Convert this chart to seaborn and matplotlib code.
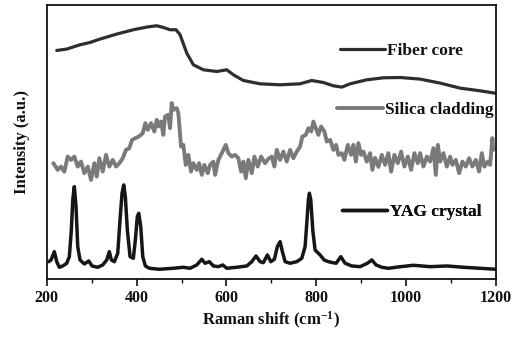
import numpy as np
import pandas as pd
import matplotlib
matplotlib.use("Agg")
import matplotlib.pyplot as plt
import seaborn as sns

# ---------------- data ----------------
core_x = [222.3, 244.5, 274.1, 296.4, 318.6, 355.8, 392.7, 422.6, 444.8, 459.5,
          474.4, 487.8, 496.7, 511.6, 526.3, 548.5, 578.4, 600.6, 615.3, 637.6,
          674.7, 719.3, 763.8, 789.8, 815.6, 837.9, 856.6, 875.1, 912.2, 949.2,
          986.3, 1030.8, 1075.3, 1119.8, 1164.3, 1200.0]
core_y = [228.3, 229.7, 234.0, 236.3, 239.7, 244.7, 249.0, 251.7, 253.0, 251.3,
          249.0, 249.0, 244.0, 225.7, 214.0, 209.0, 207.3, 209.0, 204.0, 198.3,
          195.0, 194.0, 195.0, 198.3, 196.3, 193.0, 191.7, 195.0, 199.0, 201.0,
          201.3, 199.7, 195.7, 190.7, 188.0, 185.5]

silica_x = [214.7, 224.5, 231.8, 239.2, 246.7, 254.1, 261.4, 269.0, 276.3, 283.7,
            291.3, 298.6, 305.9, 311.3, 317.1, 324.6, 332.0, 339.3, 346.9, 354.2,
            361.6, 369.2, 376.5, 383.8, 389.9, 397.2, 404.8, 413.7, 419.5, 424.8,
            432.1, 439.5, 444.8, 448.4, 454.4, 459.5, 463.3, 470.6, 474.4, 478.1,
            481.8, 489.3, 492.9, 498.9, 504.0, 509.4, 515.2, 521.2, 526.3, 533.9,
            539.0, 545.0, 550.8, 558.4, 563.5, 570.8, 574.6, 581.9, 589.5, 598.4,
            604.2, 611.8, 619.1, 626.4, 632.5, 637.6, 642.9, 648.7, 656.3, 662.1,
            669.6, 677.0, 685.9, 693.2, 700.8, 706.6, 711.9, 719.3, 726.6, 734.2,
            741.5, 748.9, 756.4, 763.8, 768.9, 776.5, 782.3, 788.3, 793.4, 798.7,
            804.5, 810.5, 817.9, 823.2, 830.5, 837.9, 843.9, 849.0, 856.6, 862.4,
            869.9, 877.3, 882.4, 887.8, 893.6, 899.6, 904.7, 912.2, 919.6, 924.7,
            930.7, 938.1, 945.6, 952.9, 960.3, 966.3, 973.7, 981.2, 988.6, 995.9,
            1003.5, 1010.8, 1018.2, 1025.7, 1030.9, 1038.2, 1045.8, 1053.1, 1060.5, 1065.8,
            1070.3, 1075.4, 1082.7, 1090.3, 1097.6, 1102.7, 1110.3, 1117.6, 1125.0, 1132.5,
            1139.9, 1147.2, 1154.8, 1162.1, 1168.1, 1173.9, 1181.5, 1186.6, 1191.7, 1193.3]
silica_y = [115.7, 109.0, 112.3, 107.3, 122.3, 119.0, 122.3, 112.3, 117.3, 105.7,
            112.3, 99.0, 115.7, 102.3, 120.7, 107.3, 124.0, 112.3, 119.0, 112.3,
            115.7, 120.7, 129.0, 130.7, 139.0, 140.7, 142.3, 145.7, 155.7, 149.0,
            155.7, 147.3, 159.0, 152.3, 157.3, 144.0, 162.3, 164.0, 150.7, 175.7,
            169.0, 170.7, 165.7, 132.3, 134.0, 114.0, 124.0, 107.3, 115.7, 109.0,
            115.7, 104.0, 114.0, 105.7, 114.0, 117.3, 104.0, 119.0, 125.7, 134.0,
            125.7, 122.3, 124.0, 120.7, 107.3, 117.3, 100.7, 119.0, 105.7, 122.3,
            112.3, 122.3, 115.7, 120.0, 122.3, 112.3, 129.0, 119.0, 127.3, 117.3,
            129.0, 120.7, 127.3, 132.3, 142.3, 144.0, 150.7, 147.3, 157.3, 150.7,
            144.0, 152.3, 147.3, 137.3, 139.0, 129.0, 134.0, 124.0, 125.7, 119.0,
            134.0, 124.0, 134.0, 117.3, 135.7, 124.0, 127.3, 117.3, 125.7, 109.0,
            121.0, 112.0, 124.0, 114.0, 125.7, 107.3, 124.0, 115.7, 127.3, 112.3,
            122.3, 109.0, 125.7, 115.7, 125.7, 112.3, 122.3, 117.3, 130.7, 104.0,
            134.0, 117.3, 125.7, 112.3, 122.3, 114.0, 119.0, 105.7, 117.3, 112.3,
            120.7, 112.3, 119.0, 107.3, 125.7, 112.3, 117.3, 114.0, 140.7, 129.0]

yag_x = [204.5, 209.6, 216.9, 222.3, 228.0, 235.6, 244.5, 250.3, 254.8, 257.9,
         261.4, 265.2, 269.0, 274.1, 283.7, 293.5, 300.8, 313.5, 324.6, 333.5,
         339.3, 343.8, 350.5, 358.0, 363.1, 367.6, 371.4, 374.9, 379.4, 385.4,
         392.7, 397.2, 401.6, 404.8, 409.2, 413.7, 419.5, 428.4, 450.6, 481.8,
         504.0, 518.9, 533.9, 545.0, 552.4, 561.9, 570.8, 581.9, 591.7, 600.6,
         622.9, 645.1, 656.3, 665.8, 674.7, 682.1, 691.0, 698.6, 706.6, 713.2,
         719.3, 724.4, 730.4, 741.5, 756.4, 767.6, 774.9, 778.7, 782.2, 784.5,
         787.6, 792.0, 797.1, 808.3, 817.2, 826.8, 836.6, 843.9, 854.4, 864.0,
         878.8, 897.3, 913.6, 923.4, 933.0, 945.6, 960.3, 982.0, 1016.0, 1053.1,
         1090.3, 1127.2, 1164.4, 1200.0]
yag_y = [17.3, 19.0, 27.3, 17.3, 11.7, 13.0, 15.7, 22.3, 49.0, 79.0,
         92.3, 72.3, 32.3, 19.0, 15.0, 18.0, 13.0, 11.7, 14.0, 19.0,
         27.3, 19.0, 17.3, 25.7, 59.0, 85.7, 94.0, 82.3, 49.0, 22.3,
         20.7, 39.0, 62.3, 65.7, 52.3, 22.3, 13.0, 10.7, 9.7, 10.7,
         11.7, 10.7, 14.0, 19.7, 15.7, 17.3, 13.0, 12.3, 14.0, 10.7,
         11.7, 13.0, 17.3, 23.0, 17.3, 16.3, 24.0, 17.3, 19.7, 32.3,
         37.3, 27.3, 17.3, 15.7, 17.3, 20.7, 32.3, 55.7, 79.0, 85.7,
         79.0, 49.0, 29.0, 24.0, 19.0, 17.3, 16.3, 15.7, 22.3, 15.7,
         13.0, 12.3, 15.7, 19.0, 14.0, 11.7, 10.7, 12.0, 13.7, 12.3,
         13.0, 11.7, 10.7, 9.7]

series_names = ["Fiber core", "Silica cladding", "YAG crystal"]
xticks = [200, 400, 600, 800, 1000, 1200]

# ---------------- styling ----------------
sns.set_theme(style="ticks")
plt.rcParams["font.family"] = ["Liberation Serif", "DejaVu Serif"]
plt.rcParams["font.weight"] = "bold"
plt.rcParams["mathtext.fontset"] = "custom"
plt.rcParams["mathtext.rm"] = "Liberation Serif:bold"
plt.rcParams["mathtext.default"] = "regular"

fig = plt.figure(figsize=(5.25, 3.38), dpi=100)
ax = fig.add_axes([0.089, 0.1746, 0.856, 0.8114])

df_core = pd.DataFrame({"x": core_x, "y": core_y})
df_sil = pd.DataFrame({"x": silica_x, "y": silica_y})
df_yag = pd.DataFrame({"x": yag_x, "y": yag_y})

sns.lineplot(data=df_core, x="x", y="y", ax=ax, color="#2e2e2e", lw=2.3,
             estimator=None, label=series_names[0], legend=False)
sns.lineplot(data=df_sil, x="x", y="y", ax=ax, color="#7a7a7a", lw=2.8,
             estimator=None, label=series_names[1], legend=False)
sns.lineplot(data=df_yag, x="x", y="y", ax=ax, color="#161616", lw=2.5,
             estimator=None, label=series_names[2], legend=False)

ax.set_xlim(200, 1200)
ax.set_ylim(0, 274)
ax.set_xticks(xticks)
ax.set_xticklabels([str(t) for t in xticks], fontsize=11.5, fontweight="bold")
ax.set_xticks(range(300, 1200, 200), minor=True)
ax.set_yticks([])
ax.tick_params(axis="x", which="major", direction="out", length=5, width=1.2,
               pad=3, colors="#111")
ax.tick_params(axis="x", which="minor", direction="out", length=3, width=1.0,
               colors="#111")
for s in ax.spines.values():
    s.set_linewidth(1.3)
    s.set_color("#111")
    s.set_visible(True)

ax.set_xlabel("Raman shift (cm$^{-1}$)", fontsize=12, fontweight="bold",
              labelpad=3, color="#111")
ax.set_ylabel("Intensity (a.u.)", fontsize=12, fontweight="bold",
              labelpad=12, color="#111")

# three separate legend entries, placed next to each curve
lines = ax.get_lines()
anchors = [(0.652, 0.831), (0.647, 0.616), (0.657, 0.244)]
for ln, name, anc in zip(lines, series_names, anchors):
    leg = ax.legend([ln], [name], loc="center left", bbox_to_anchor=anc,
                    frameon=False, borderpad=0, borderaxespad=0,
                    handlelength=2.6, handletextpad=0.15,
                    prop={"family": "Liberation Serif", "weight": "bold",
                          "size": 12.5})
    for t in leg.get_texts():
        t.set_color("#111")
    ax.add_artist(leg)

fig.savefig("out.png", dpi=100)
